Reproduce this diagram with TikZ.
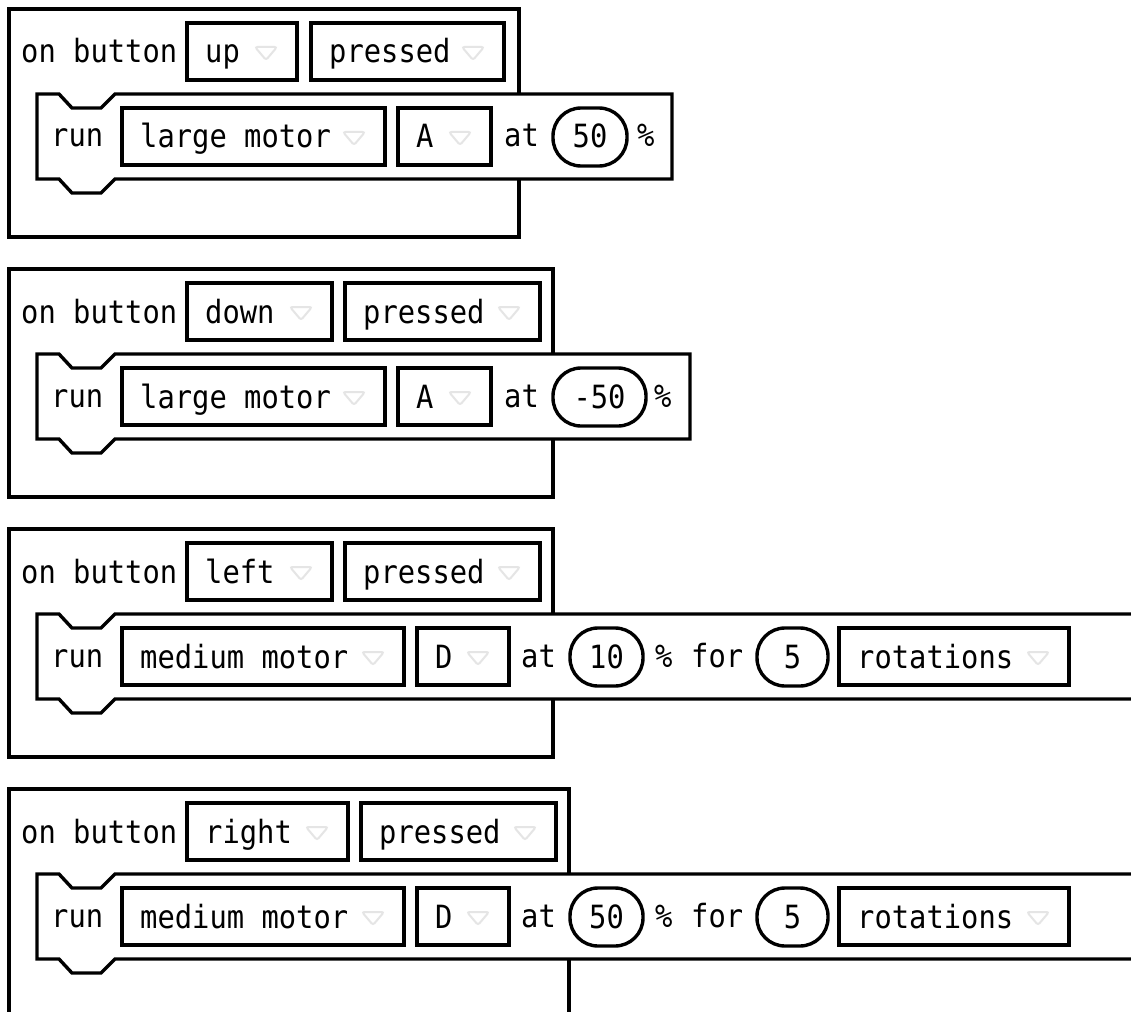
\documentclass[tikz,border=0pt]{standalone}
\usepackage{fontspec}
\newfontfamily\blkfont[FakeStretch=0.9]{DejaVu Sans Mono}
\tikzset{
  blk/.style={draw=black, line width=3.4pt, fill=white},
  boxline/.style={draw=black, line width=3.4pt},
  txt/.style={inner sep=0pt, font=\blkfont\fontsize{32}{36}\selectfont, text=black},
  tri/.style={draw=black!10, line width=2pt, rounded corners=2.5pt, fill=white},
}
% #1 name, #2 left, #3 right, #4 top, #5 text
\newcommand{\ddbox}[5]{%
  \draw[boxline] (#2,#4) rectangle (#3,#4+57);
  \node[txt, anchor=base west] (#1) at (#2+18,#4+40) {#5};
  \draw[tri] (#3-42,#4+24) -- (#3-20,#4+24) -- (#3-31,#4+37) -- cycle;
}
% #1 name, #2 left, #3 right, #4 top, #5 text
\newcommand{\valoval}[5]{%
  \draw[boxline, rounded corners=28pt] (#2,#4) rectangle (#3,#4+58);
  \node[txt, anchor=base] (#1) at ({(#2+#3)/2},#4+40) {#5};
}
% #1 top, #2 right
\newcommand{\runblock}[2]{%
  \draw[blk] (37,#1) -- (59,#1) -- (72,#1+14) -- (101,#1+14) -- (115,#1) -- (#2,#1)
    -- (#2,#1+85) -- (115,#1+85) -- (101,#1+99) -- (72,#1+99) -- (59,#1+85) -- (37,#1+85) -- cycle;
}
\begin{document}
\begin{tikzpicture}[x=1pt,y=-1pt]
\path[use as bounding box] (0,0) rectangle (1131,1011);
\clip (0,0) rectangle (1131,1011);
\fill[white] (0,0) rectangle (1131,1011);

% ---------- block 1 ----------
\draw[blk] (9,9) rectangle (519,237);
\node[txt, anchor=base west] (h1) at (21,63) {on button};
\ddbox{b1a}{187}{297}{23}{up}
\ddbox{b1b}{311}{504}{23}{pressed}
\runblock{94}{672}
\node[txt, anchor=base west] (r1) at (51,147) {run};
\ddbox{m1}{122}{385}{108}{large motor}
\ddbox{p1}{398}{491}{108}{A}
\node[txt, anchor=base west] (at1) at (504,147) {at};
\valoval{v1}{553}{627}{108}{50}
\node[txt, anchor=base west] (pc1) at (637,147) {\%};

% ---------- block 2 ----------
\draw[blk] (9,269) rectangle (553,497);
\node[txt, anchor=base west] (h2) at (21,323) {on button};
\ddbox{b2a}{187}{332}{283}{down}
\ddbox{b2b}{345}{540}{283}{pressed}
\runblock{354}{690}
\node[txt, anchor=base west] (r2) at (51,407) {run};
\ddbox{m2}{122}{385}{368}{large motor}
\ddbox{p2}{398}{491}{368}{A}
\node[txt, anchor=base west] (at2) at (504,407) {at};
\valoval{v2}{553}{646}{368}{-50}
\node[txt, anchor=base west] (pc2) at (654,407) {\%};

% ---------- block 3 ----------
\draw[blk] (9,529) rectangle (553,757);
\node[txt, anchor=base west] (h3) at (21,583) {on button};
\ddbox{b3a}{187}{332}{543}{left}
\ddbox{b3b}{345}{540}{543}{pressed}
\runblock{614}{1160}
\node[txt, anchor=base west] (r3) at (51,667) {run};
\ddbox{m3}{122}{404}{628}{medium motor}
\ddbox{p3}{417}{509}{628}{D}
\node[txt, anchor=base west] (at3) at (521,667) {at};
\valoval{v3}{570}{643}{628}{10}
\node[txt, anchor=base west] (pc3) at (655,667) {\%};
\node[txt, anchor=base west] (fo3) at (691,667) {for};
\valoval{w3}{757}{828}{628}{5}
\ddbox{u3}{839}{1069}{628}{rotations}

% ---------- block 4 ----------
\draw[blk] (9,789) rectangle (569,1030);
\node[txt, anchor=base west] (h4) at (21,843) {on button};
\ddbox{b4a}{187}{348}{803}{right}
\ddbox{b4b}{361}{556}{803}{pressed}
\runblock{874}{1160}
\node[txt, anchor=base west] (r4) at (51,927) {run};
\ddbox{m4}{122}{404}{888}{medium motor}
\ddbox{p4}{417}{509}{888}{D}
\node[txt, anchor=base west] (at4) at (521,927) {at};
\valoval{v4}{570}{643}{888}{50}
\node[txt, anchor=base west] (pc4) at (655,927) {\%};
\node[txt, anchor=base west] (fo4) at (691,927) {for};
\valoval{w4}{757}{828}{888}{5}
\ddbox{u4}{839}{1069}{888}{rotations}
\end{tikzpicture}
\end{document}
